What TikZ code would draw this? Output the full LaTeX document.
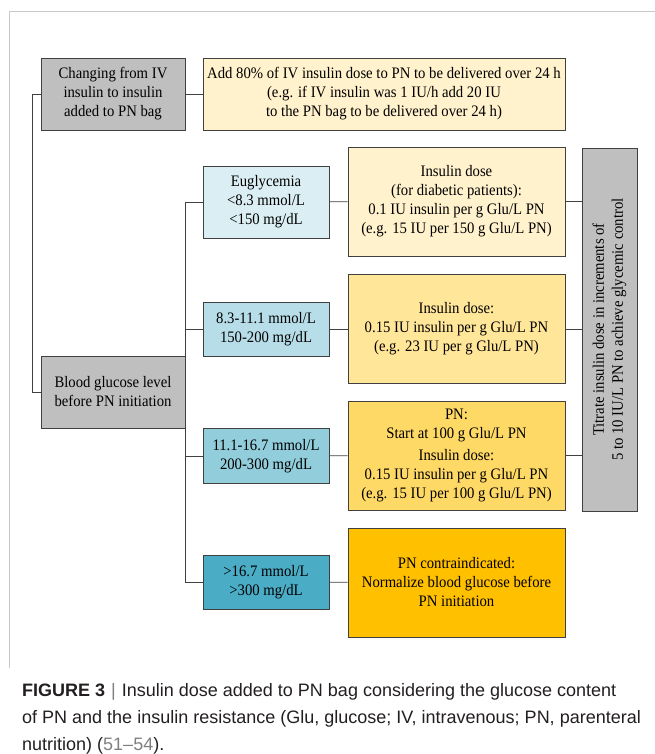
\documentclass[tikz,border=0pt]{standalone}
\usepackage{fontspec}
\setmainfont{Liberation Serif}[FakeStretch=0.92]
\setsansfont{Liberation Sans}
\usepackage{tikz}
\usetikzlibrary{positioning}

\definecolor{framegray}{HTML}{C8C8C8}
\definecolor{boxline}{HTML}{404040}
\definecolor{startgray}{HTML}{BFBFBF}
\definecolor{doseA}{HTML}{FFF2CC}
\definecolor{doseB}{HTML}{FFE699}
\definecolor{doseC}{HTML}{FFD966}
\definecolor{doseD}{HTML}{FFC000}
\definecolor{bgA}{HTML}{DAEEF3}
\definecolor{bgB}{HTML}{B7DEE8}
\definecolor{bgC}{HTML}{92CDDC}
\definecolor{bgD}{HTML}{4BACC6}
\definecolor{citegray}{HTML}{7F7F7F}
\definecolor{captext}{HTML}{231F20}

\tikzset{%
    box/.style={
        draw=boxline, line width=0.9pt, align=center, inner sep=0pt,
        font=\fontsize{16}{19}\selectfont
    }
}
\tikzset{startbox/.style={box, fill=startgray, minimum width=144pt, minimum height=72pt}}
\tikzset{rangebox/.style={box, minimum width=126pt}}
\tikzset{dosebox/.style={box, minimum width=217pt, minimum height=109pt}}
\tikzset{link/.style={draw=boxline, line width=0.8pt}}

\begin{document}
\begin{tikzpicture}[x=1pt, y=-1pt]
    \useasboundingbox (0,0) rectangle (655,754);

    % page frame
    \draw[framegray, line width=1pt] (655,12) -- (9,12) -- (9,668);

    % left column
    \node[startbox] (change) at (113,94) {Changing from IV\\insulin to insulin\\added to PN bag};
    \node[startbox] (blood) at (113,392) {Blood glucose level\\before PN initiation};
    \node[box, fill=doseA, minimum width=362pt, minimum height=72pt] (ivdose) at (384,94)
        {Add 80\% of IV insulin dose to PN to be delivered over 24 h\\(e.g. if IV insulin was 1 IU/h add 20 IU\\to the PN bag to be delivered over 24 h)};

    % glucose ranges
    \node[rangebox, fill=bgA, minimum height=72pt] (eugly) at (266,202) {Euglycemia\\<8.3 mmol/L\\<150 mg/dL};
    \node[rangebox, fill=bgB, minimum height=54pt] (mild) at (266,329) {8.3-11.1 mmol/L\\150-200 mg/dL};
    \node[rangebox, fill=bgC, minimum height=55pt] (high) at (266,456) {11.1-16.7 mmol/L\\200-300 mg/dL};
    \node[rangebox, fill=bgD, minimum height=54pt] (severe) at (266,582) {>16.7 mmol/L\\>300 mg/dL};

    % doses
    \node[dosebox, fill=doseA] (doseeu) at (456.5,201.5)
        {Insulin dose\\(for diabetic patients):\\0.1 IU insulin per g Glu/L PN\\(e.g. 15 IU per 150 g Glu/L PN)};
    \node[dosebox, fill=doseB] (dosemild) at (456.5,329)
        {Insulin dose:\\0.15 IU insulin per g Glu/L PN\\(e.g. 23 IU per g Glu/L PN)};
    \node[dosebox, fill=doseC] (dosehigh) at (456.5,455.5)
        {PN:\\Start at 100 g Glu/L PN\\[3pt]Insulin dose:\\0.15 IU insulin per g Glu/L PN\\(e.g. 15 IU per 100 g Glu/L PN)};
    \node[dosebox, fill=doseD] (stop) at (456.5,582.5)
        {PN contraindicated:\\Normalize blood glucose before\\PN initiation};

    % titration
    \node[box, fill=startgray, minimum width=55pt, minimum height=363pt] (titrate) at (609.5,329.5) {};
    \node[rotate=90, align=center, inner sep=0pt, font=\fontsize{16}{19}\selectfont] (titratetxt) at (titrate.center)
        {Titrate insulin dose in increments of\\5 to 10 IU/L PN to achieve glycemic control};

    \coordinate (leftup) at (32,94);
    \coordinate (leftdown) at (32,392);
    \coordinate (trunkup) at (185,202);
    \coordinate (trunkmild) at (185,329);
    \coordinate (trunkhigh) at (185,456);
    \coordinate (trunkdown) at (185,582);

    \draw[link] (change.west) -- (leftup) -- (leftdown) -- (blood.west);
    \draw[link] (change.east) -- (ivdose.west);

    \draw[link] (eugly.west) -- (trunkup) -- (trunkdown) -- (severe.west);
    \draw[link] (mild.west) -- (trunkmild);
    \draw[link] (high.west) -- (trunkhigh);

    \draw[link] (eugly) -- (doseeu);
    \draw[link] (mild) -- (dosemild);
    \draw[link] (high) -- (dosehigh);
    \draw[link] (severe) -- (stop);

    \draw[link] (doseeu.east) -- (doseeu.east -| titrate.west);
    \draw[link] (dosemild.east) -- (dosemild.east -| titrate.west);
    \draw[link] (dosehigh.east) -- (dosehigh.east -| titrate.west);

    % caption
    \node[anchor=north west, align=left, inner sep=0pt, text=captext, font=\sffamily\fontsize{18}{27}\selectfont] (caption) at (22,683)
        {\textbf{FIGURE 3}\,\,{\color{citegray}|}\,\,Insulin dose added to PN bag considering the glucose content\\
         of PN and the insulin resistance (Glu, glucose; IV, intravenous; PN, parenteral\\
         nutrition) ({\color{citegray}51--54}).};
\end{tikzpicture}
\end{document}
